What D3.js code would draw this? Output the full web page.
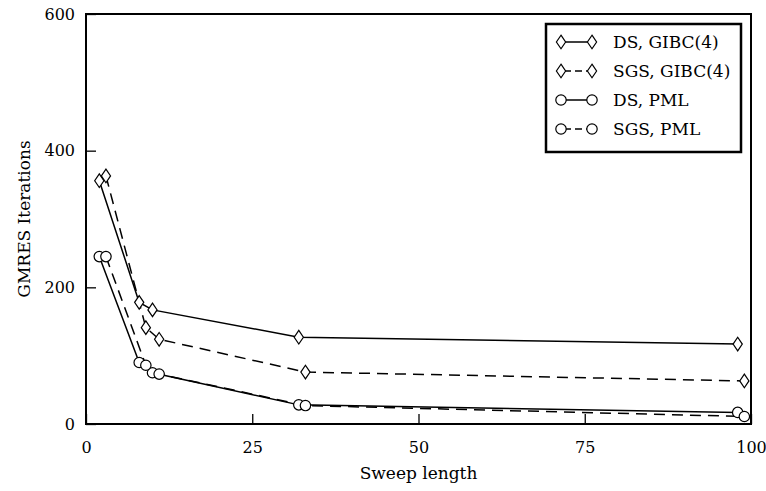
<!DOCTYPE html>
<html><head><meta charset="utf-8">
<script src="https://cdn.jsdelivr.net/npm/d3@7"></script>
<style>body{margin:0;background:#fff}svg{display:block}text{font-family:"DejaVu Serif",serif;fill:#000}</style>
</head><body><svg id="c" width="766" height="491"></svg>
<script>
const seriesNames = ["DS, GIBC(4)", "SGS, GIBC(4)", "DS, PML", "SGS, PML"];
const xDS = [2, 8, 10, 32, 98];
const xSGS = [3, 9, 11, 33, 99];
const dsGibc = [356, 178, 167, 127, 117];
const sgsGibc = [363, 141, 124, 76, 63];
const dsPml = [245, 90, 75, 28, 17];
const sgsPml = [245, 86, 73, 27, 11];
const xTicks = [0, 25, 50, 75, 100];
const yTicks = [0, 200, 400, 600];

const series = [
  {name: seriesNames[0], xs: xDS, ys: dsGibc, marker: "diamond", dashed: false},
  {name: seriesNames[1], xs: xSGS, ys: sgsGibc, marker: "diamond", dashed: true},
  {name: seriesNames[2], xs: xDS, ys: dsPml, marker: "circle", dashed: false},
  {name: seriesNames[3], xs: xSGS, ys: sgsPml, marker: "circle", dashed: true}
];

const svg = d3.select("#c");
const L = 86, R = 751, T = 14, B = 424;
const x = d3.scaleLinear().domain([0, 100]).range([L, R]);
const y = d3.scaleLinear().domain([0, 600]).range([B, T]);

// ticks (inward)
const gx = svg.append("g").attr("transform", `translate(0,${B})`)
  .call(d3.axisBottom(x).tickValues(xTicks).tickSize(-10).tickPadding(18).tickFormat(d3.format("d")));
const gy = svg.append("g").attr("transform", `translate(${L},0)`)
  .call(d3.axisLeft(y).tickValues(yTicks).tickSize(-10).tickPadding(11).tickFormat(d3.format("d")));
[gx, gy].forEach(g => {
  g.select(".domain").remove();
  g.selectAll(".tick line").attr("stroke", "#000").attr("stroke-width", 1.3);
  g.selectAll(".tick text").style("font-size", "16px").attr("fill", "#000");
});

// frame
svg.append("rect").attr("x", L).attr("y", T).attr("width", R - L).attr("height", B - T)
  .attr("fill", "none").attr("stroke", "#000").attr("stroke-width", 2);

const dash = "11,7";
const line = d3.line().x(d => x(d[0])).y(d => y(d[1]));
function drawMarker(g, type, cx, cy) {
  if (type === "circle") {
    g.append("circle").attr("cx", cx).attr("cy", cy).attr("r", 5.2)
      .attr("fill", "#fff").attr("stroke", "#000").attr("stroke-width", 1.2);
  } else {
    const w = 4.6, h = 6.8;
    g.append("path").attr("d", `M${cx},${cy - h}L${cx + w},${cy}L${cx},${cy + h}L${cx - w},${cy}Z`)
      .attr("fill", "#fff").attr("stroke", "#000").attr("stroke-width", 1.2);
  }
}

series.forEach(s => {
  const pts = s.xs.map((v, i) => [v, s.ys[i]]);
  svg.append("path").datum(pts).attr("d", line).attr("fill", "none")
    .attr("stroke", "#000").attr("stroke-width", 1.5)
    .attr("stroke-dasharray", s.dashed ? dash : null);
});
series.forEach(s => {
  const g = svg.append("g");
  s.xs.forEach((v, i) => drawMarker(g, s.marker, x(v), y(s.ys[i])));
});

// legend
const lg = svg.append("g");
lg.append("rect").attr("x", 546).attr("y", 24).attr("width", 195).attr("height", 128)
  .attr("fill", "#fff").attr("stroke", "#000").attr("stroke-width", 2.5);
series.forEach((s, i) => {
  const cy = 42 + i * 29;
  lg.append("line").attr("x1", 561).attr("x2", 592).attr("y1", cy).attr("y2", cy)
    .attr("stroke", "#000").attr("stroke-width", 1.5)
    .attr("stroke-dasharray", s.dashed ? "7,4" : null).attr("stroke-dashoffset", s.dashed ? -3 : 0);
  drawMarker(lg, s.marker, 561, cy);
  drawMarker(lg, s.marker, 592, cy);
  lg.append("text").attr("x", 613).attr("y", cy + 6).style("font-size", "17px").text(s.name);
});

// axis labels
svg.append("text").attr("x", (L + R) / 2).attr("y", 479).attr("text-anchor", "middle")
  .style("font-size", "17px").text("Sweep length");
svg.append("text").attr("transform", `translate(30,${(T + B) / 2}) rotate(-90)`)
  .attr("text-anchor", "middle").style("font-size", "17px").text("GMRES Iterations");
</script></body></html>
